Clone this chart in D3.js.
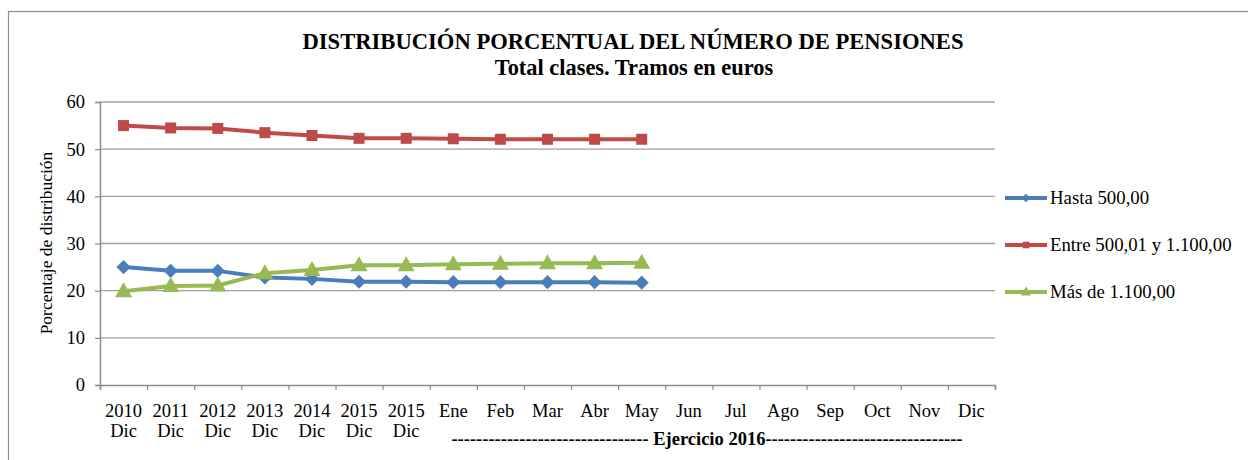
<!DOCTYPE html>
<html>
<head>
<meta charset="utf-8">
<script src="https://cdn.jsdelivr.net/npm/d3@7"></script>
<style>
body { margin:0; background:#fff; }
</style>
</head>
<body>
<svg id="chart" width="1248" height="460"></svg>
<script>
var categories = ["2010|Dic","2011|Dic","2012|Dic","2013|Dic","2014|Dic","2015|Dic","2015|Dic","Ene","Feb","Mar","Abr","May","Jun","Jul","Ago","Sep","Oct","Nov","Dic"];
var hasta500 = [25.0, 24.2, 24.2, 22.8, 22.5, 21.9, 21.9, 21.8, 21.8, 21.8, 21.8, 21.7];
var entre500y1100 = [55.0, 54.5, 54.4, 53.5, 52.9, 52.3, 52.3, 52.2, 52.1, 52.1, 52.1, 52.1];
var mas1100 = [19.9, 21.0, 21.1, 23.7, 24.4, 25.4, 25.4, 25.6, 25.7, 25.8, 25.8, 25.9];
var yTicks = [0, 10, 20, 30, 40, 50, 60];
var seriesNames = ["Hasta 500,00", "Entre 500,01 y 1.100,00", "Más de 1.100,00"];
var seriesColors = ["#4a7ebb", "#be4b48", "#98b954"];

var FONT = "'Liberation Serif', 'Times New Roman', serif";
var svg = d3.select("#chart");
svg.append("rect").attr("x",8.5).attr("y",11.5).attr("width",1300).attr("height",500)
	.attr("fill","none").attr("stroke","#8c8c8c").attr("stroke-width",1.2);

var x = d3.scaleBand().domain(d3.range(categories.length)).range([100, 995]);
var y = d3.scaleLinear().domain([0, 60]).range([385, 102]);

// marcadores
function marker(sel, s, k)
{
	k = k || 1;
	if(s==0)
		sel.append("rect").attr("x",-5*k).attr("y",-5*k).attr("width",10*k).attr("height",10*k).attr("transform","rotate(45)");
	else if(s==1)
		sel.append("rect").attr("x",-5.5*k).attr("y",-5.5*k).attr("width",11*k).attr("height",11*k);
	else
		sel.append("path").attr("d","M0,"+(-9*k)+"L"+(8.5*k)+","+(6*k)+"L"+(-8.5*k)+","+(6*k)+"Z");
}

// gridlines
svg.append("g").selectAll("line").data(yTicks.slice(1)).enter().append("line")
	.attr("x1",100).attr("x2",995).attr("y1",function(d){return y(d);}).attr("y2",function(d){return y(d);})
	.attr("stroke","#a0a0a0").attr("stroke-width",1.3);

// y axis
var yAxis = svg.append("g").attr("transform","translate(100,0)")
	.call(d3.axisLeft(y).tickValues(yTicks).tickSize(5).tickPadding(10));
yAxis.select(".domain").attr("stroke","#8c8c8c").attr("stroke-width",1.5);
yAxis.selectAll(".tick line").attr("stroke","#8c8c8c").attr("stroke-width",1.2);
yAxis.selectAll("text").attr("font-size",18.5).attr("fill","#000");

// x axis (ticks at category boundaries)
var xb = d3.scaleLinear().domain([0, categories.length]).range([100, 995]);
var xAxis = svg.append("g").attr("transform","translate(0,385)")
	.call(d3.axisBottom(xb).tickValues(d3.range(categories.length+1)).tickSize(5).tickFormat(""));
xAxis.select(".domain").attr("stroke","#8c8c8c").attr("stroke-width",1.5);
xAxis.selectAll(".tick line").attr("stroke","#8c8c8c").attr("stroke-width",1.2);

var lab = svg.append("g").selectAll("text").data(categories).enter().append("text")
	.attr("text-anchor","middle").attr("font-size",18.5)
	.attr("x",function(d,i){return x(i)+x.bandwidth()/2;});
lab.each(function(d){
	var parts = d.split("|");
	var t = d3.select(this);
	parts.forEach(function(p,k){
		t.append("tspan").attr("x",t.attr("x")).attr("y",417+k*20).text(p);
	});
});

svg.append("text").attr("x",707).attr("y",445).attr("text-anchor","middle")
	.attr("font-size",18.5).attr("font-weight","bold")
	.text("-------------------------------- Ejercicio 2016--------------------------------");

// y title
svg.append("text").attr("transform","translate(52,243) rotate(-90)").attr("text-anchor","middle")
	.attr("font-size",17.5).text("Porcentaje de distribución");

// titles
svg.append("text").attr("x",633).attr("y",49).attr("text-anchor","middle")
	.attr("font-size",22.6).attr("font-weight","bold").text("DISTRIBUCIÓN PORCENTUAL DEL NÚMERO DE PENSIONES");
svg.append("text").attr("x",634).attr("y",75).attr("text-anchor","middle")
	.attr("font-size",22.4).attr("font-weight","bold").text("Total clases. Tramos en euros");

// series
var allSeries = [hasta500, entre500y1100, mas1100];
var line = d3.line().x(function(d,i){return x(i)+x.bandwidth()/2;}).y(function(d){return y(d);});
allSeries.forEach(function(vals, s){
	var g = svg.append("g").attr("fill",seriesColors[s]);
	g.append("path").datum(vals).attr("d",line).attr("fill","none")
		.attr("stroke",seriesColors[s]).attr("stroke-width",4).attr("stroke-linejoin","round");
	g.selectAll("g.m").data(vals).enter().append("g").attr("class","m")
		.attr("transform",function(d,i){return "translate("+(x(i)+x.bandwidth()/2)+","+y(d)+")";})
		.each(function(){ marker(d3.select(this), s); });
});

// legend
var leg = svg.append("g").selectAll("g").data(seriesNames).enter().append("g")
	.attr("transform",function(d,i){return "translate(1005,"+(198+i*47)+")";})
	.attr("fill",function(d,i){return seriesColors[i];});
leg.append("line").attr("x1",0).attr("x2",42).attr("stroke",function(d,i){return seriesColors[i];}).attr("stroke-width",4);
leg.append("g").attr("transform","translate(21,0)").each(function(d,i){ marker(d3.select(this), i, 0.6); });
leg.append("text").attr("x",45).attr("y",6).attr("font-size",18.8).attr("fill","#000").text(function(d){return d;});

svg.selectAll("text").style("font-family", FONT);
</script>
</body>
</html>
